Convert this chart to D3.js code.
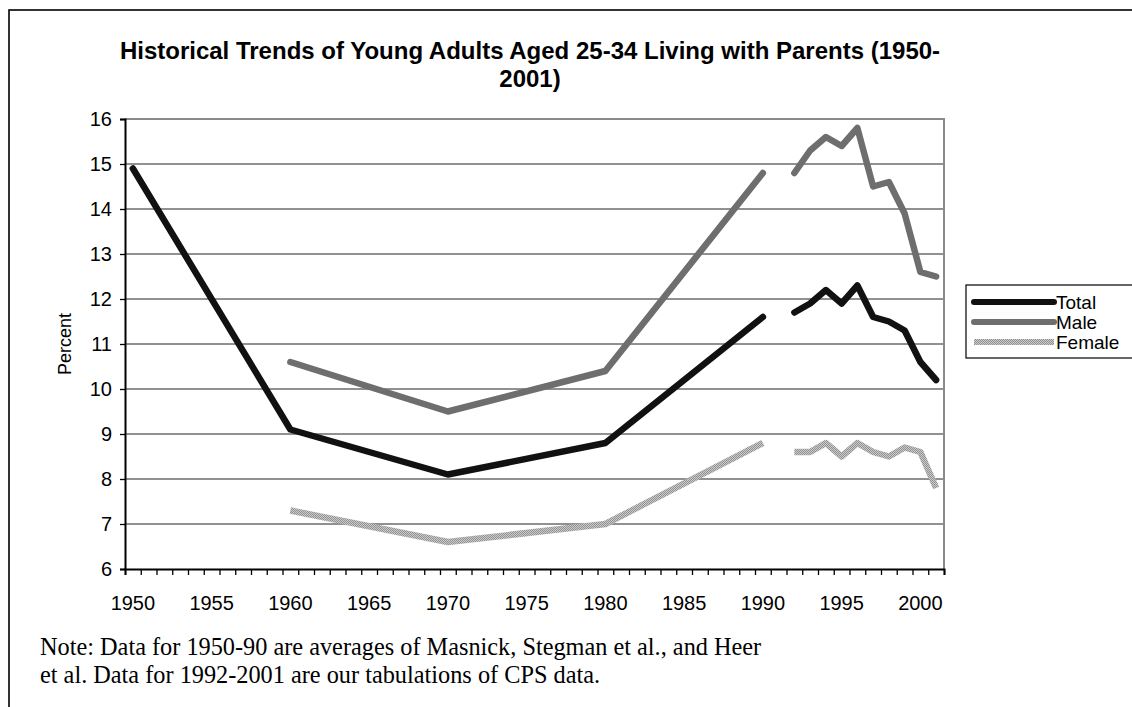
<!DOCTYPE html>
<html>
<head>
<meta charset="utf-8">
<script src="https://cdn.jsdelivr.net/npm/d3@7"></script>
<style>
  html, body { margin: 0; padding: 0; background: #fff; }
  svg { display: block; }
</style>
</head>
<body>
<svg id="chart" width="1132" height="707"></svg>
<script>
// ---- Data ----
const categories = d3.range(1950, 2002); // 1950..2001 category axis
const labelYears = [1950, 1955, 1960, 1965, 1970, 1975, 1980, 1985, 1990, 1995, 2000];
const yTicks = [6, 7, 8, 9, 10, 11, 12, 13, 14, 15, 16];

// 1950-90 averages (decade points)
const histYears  = [1950, 1960, 1970, 1980, 1990];
const histTotal  = [14.9, 9.1, 8.1, 8.8, 11.6];
const histMale   = [null, 10.6, 9.5, 10.4, 14.8];
const histFemale = [null, 7.3, 6.6, 7.0, 8.8];

// 1992-2001 CPS tabulations
const cpsYears  = [1992, 1993, 1994, 1995, 1996, 1997, 1998, 1999, 2000, 2001];
const cpsTotal  = [11.7, 11.9, 12.2, 11.9, 12.3, 11.6, 11.5, 11.3, 10.6, 10.2];
const cpsMale   = [14.8, 15.3, 15.6, 15.4, 15.8, 14.5, 14.6, 13.9, 12.6, 12.5];
const cpsFemale = [8.6, 8.6, 8.8, 8.5, 8.8, 8.6, 8.5, 8.7, 8.6, 7.8];

const seriesNames = ["Total", "Male", "Female"];

// ---- Layout ----
const svg = d3.select("#chart");
const plot = { left: 125, right: 944, top: 119, bottom: 569 };
const SANS = "Liberation Sans, Arial, sans-serif";

// pattern for the Female line
const defs = svg.append("defs");
const pat = defs.append("pattern").attr("id", "dither")
  .attr("width", 2).attr("height", 2).attr("patternUnits", "userSpaceOnUse");
pat.append("rect").attr("width", 2).attr("height", 2).attr("fill", "#cacaca");
pat.append("rect").attr("width", 1).attr("height", 1).attr("fill", "#929292");
pat.append("rect").attr("x", 1).attr("y", 1).attr("width", 1).attr("height", 1).attr("fill", "#929292");

// outer chart frame (only left & top visible)
svg.append("rect").attr("x", 9).attr("y", 10).attr("width", 1300).attr("height", 900)
  .attr("fill", "none").attr("stroke", "#000").attr("stroke-width", 1.6);

const x = d3.scaleBand().domain(categories).range([plot.left, plot.right]).paddingInner(0).paddingOuter(0);
const bw = x.bandwidth();
const xc = yr => x(yr) + bw / 2;
const xb = d3.scaleLinear().domain([0, categories.length]).range([plot.left, plot.right]);
const y = d3.scaleLinear().domain([6, 16]).range([plot.bottom, plot.top]);

// gridlines
svg.append("g").selectAll("line").data(yTicks.filter(v => v > 6 && v < 16)).join("line")
  .attr("x1", plot.left).attr("x2", plot.right)
  .attr("y1", d => y(d)).attr("y2", d => y(d))
  .attr("stroke", "#222").attr("stroke-width", 1);

// plot border top & right (gray)
svg.append("path")
  .attr("d", `M${plot.left},${plot.top}H${plot.right}V${plot.bottom}`)
  .attr("fill", "none").attr("stroke", "#8a8a8a").attr("stroke-width", 2);

// Y axis
const yAxis = svg.append("g").attr("transform", `translate(${plot.left},0)`)
  .call(d3.axisLeft(y).tickValues(yTicks).tickSize(5).tickPadding(8).tickFormat(d3.format("d")));
yAxis.select(".domain").attr("stroke", "#000").attr("stroke-width", 2);
yAxis.selectAll(".tick line").attr("stroke", "#000").attr("stroke-width", 1.3);
yAxis.selectAll("text").attr("font-family", SANS).attr("font-size", 20).attr("fill", "#000");

// X axis: tick marks at category boundaries
const xTickAxis = svg.append("g").attr("transform", `translate(0,${plot.bottom})`)
  .call(d3.axisBottom(xb).tickValues(d3.range(0, categories.length + 1)).tickSize(6).tickFormat(""));
xTickAxis.select(".domain").attr("stroke", "#000").attr("stroke-width", 2);
xTickAxis.selectAll(".tick line").attr("stroke", "#000").attr("stroke-width", 1.3);

// X labels centered in categories
const xLabAxis = svg.append("g").attr("transform", `translate(0,${plot.bottom})`)
  .call(d3.axisBottom(x).tickValues(labelYears).tickSize(0).tickPadding(41));
xLabAxis.select(".domain").remove();
xLabAxis.selectAll("text").attr("font-family", SANS)
  .attr("font-size", 20).attr("fill", "#000").attr("dy", "0");

// axis title
svg.append("text").attr("transform", `translate(71,${(plot.top + plot.bottom) / 2}) rotate(-90)`)
  .attr("text-anchor", "middle").attr("font-family", SANS)
  .attr("font-size", 18).text("Percent");

// chart title
const title = svg.append("text").attr("text-anchor", "middle")
  .attr("font-family", SANS).attr("font-weight", "bold").attr("font-size", 24);
title.append("tspan").attr("x", 530).attr("y", 59)
  .text("Historical Trends of Young Adults Aged 25-34 Living with Parents (1950-");
title.append("tspan").attr("x", 530).attr("y", 87).text("2001)");

// lines
const styles = {
  Total:  { stroke: "#111111", cap: "round" },
  Male:   { stroke: "#6e6e6e", cap: "round" },
  Female: { stroke: "url(#dither)", cap: "butt" }
};
const line = d3.line().defined(d => d[1] != null).x(d => xc(d[0])).y(d => y(d[1]));
const segs = [
  ["Female", histYears, histFemale], ["Female", cpsYears, cpsFemale],
  ["Male", histYears, histMale], ["Male", cpsYears, cpsMale],
  ["Total", histYears, histTotal], ["Total", cpsYears, cpsTotal]
];
segs.forEach(([name, yrs, vals]) => {
  const pts = yrs.map((yr, i) => [yr, vals[i]]).filter(d => d[1] != null);
  svg.append("path").datum(pts).attr("d", line)
    .attr("fill", "none").attr("stroke", styles[name].stroke)
    .attr("stroke-width", 6.5).attr("stroke-linecap", styles[name].cap)
    .attr("stroke-linejoin", "round");
});

// legend
const lg = svg.append("g");
lg.append("rect").attr("x", 966).attr("y", 285).attr("width", 170).attr("height", 73)
  .attr("fill", "#fff").attr("stroke", "#000").attr("stroke-width", 1.2);
seriesNames.forEach((name, i) => {
  const ly = 302 + i * 20;
  lg.append("line").attr("x1", 974).attr("x2", 1054).attr("y1", ly).attr("y2", ly)
    .attr("stroke", styles[name].stroke).attr("stroke-width", 6)
    .attr("stroke-linecap", styles[name].cap);
  lg.append("text").attr("x", 1056).attr("y", ly + 7)
    .attr("font-family", SANS).attr("font-size", 19)
    .text(name);
});

// note
const note = svg.append("text").attr("font-family", "Liberation Serif, Times New Roman, serif")
  .attr("font-size", 24.3);
note.append("tspan").attr("x", 40).attr("y", 655)
  .text("Note: Data for 1950-90 are averages of Masnick, Stegman et al., and Heer");
note.append("tspan").attr("x", 40).attr("y", 683)
  .text("et al. Data for 1992-2001 are our tabulations of CPS data.");
</script>
</body>
</html>
